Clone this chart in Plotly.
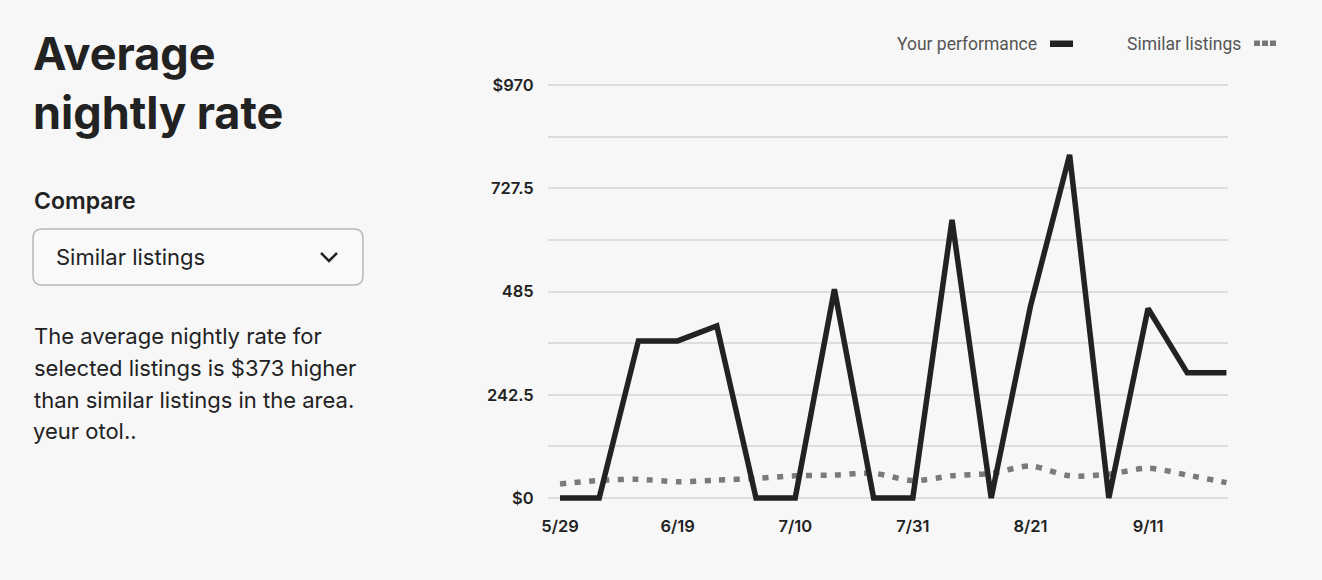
import plotly.graph_objects as go

# ---- data ----
dates = ["5/29", "6/5", "6/12", "6/19", "6/26", "7/3", "7/10", "7/17", "7/24",
         "7/31", "8/7", "8/14", "8/21", "8/28", "9/4", "9/11", "9/18", "9/25"]
your_performance = [0, 0, 369, 369, 404, 0, 0, 490, 0, 0, 653, 0, 450, 806, 0, 445, 294, 294]
similar_listings = [33, 41, 44, 38, 42, 46, 52, 54, 58, 41, 52, 58, 75, 52, 56, 70, 54, 36]
x_tick_labels = ["5/29", "6/19", "7/10", "7/31", "8/21", "9/11"]
y_tick_values = [0, 121.25, 242.5, 363.75, 485, 606.25, 727.5, 848.75, 970]
y_tick_labels = ["$0", "", "242.5", "", "485", "", "727.5", "", "$970"]

BG = "#f7f7f7"
W, H = 1322, 580
ML, MR, MT, MB = 548, 94, 82, 78
PW, PH = W - ML - MR, H - MT - MB


def px(x):
    return (x - ML) / PW


def py(y):
    return (H - MB - y) / PH


fig = go.Figure()
fig.add_trace(go.Scatter(
    x=dates, y=similar_listings, mode="lines", name="Similar listings",
    line=dict(color="#7a7a7a", width=5.5, dash="6px,8.5px", shape="spline", smoothing=0.8),
    showlegend=False, hoverinfo="skip"))
fig.add_trace(go.Scatter(
    x=dates, y=your_performance, mode="lines", name="Your performance",
    line=dict(color="#222222", width=5.5), showlegend=False))

left_font = "Inter, Lato, sans-serif"
annotations = [
    dict(text="Average<br>nightly rate", x=px(31), y=py(24), yanchor="top", align="left",
         font=dict(size=45, color="#222", family=left_font, weight=700)),
    dict(text="Compare", x=px(32), y=py(201), font=dict(size=23, color="#222", family=left_font, weight=600)),
    dict(text="Similar listings", x=px(54), y=py(257), font=dict(size=22, color="#222", family=left_font)),
    dict(text="The average nightly rate for", x=px(32), y=py(336), font=dict(size=22, color="#222", family=left_font)),
    dict(text="selected listings is $373 higher", x=px(32), y=py(368), font=dict(size=22, color="#222", family=left_font)),
    dict(text="than similar listings in the area.", x=px(32), y=py(400), font=dict(size=22, color="#222", family=left_font)),
    dict(text="yeur otol..", x=px(31), y=py(431), font=dict(size=22, color="#222", family=left_font)),
]
for a in annotations:
    a.setdefault("yanchor", "middle")
    a.update(xref="paper", yref="paper", xanchor="left", showarrow=False)

legend_font = dict(size=17.5, color="#555", family="Roboto, sans-serif")
annotations += [
    dict(text="Your performance", x=px(1039), y=py(44), xref="paper", yref="paper",
         xanchor="right", yanchor="middle", showarrow=False, font=legend_font),
    dict(text="Similar listings", x=px(1243), y=py(44), xref="paper", yref="paper",
         xanchor="right", yanchor="middle", showarrow=False, font=legend_font),
]


def rounded_rect(x0, y0, x1, y1, r):
    rx, ry = r / PW, r / PH
    X0, X1 = px(x0), px(x1)
    Y0, Y1 = py(y1), py(y0)  # bottom, top in paper
    return (f"M {X0+rx},{Y1} L {X1-rx},{Y1} Q {X1},{Y1} {X1},{Y1-ry} "
            f"L {X1},{Y0+ry} Q {X1},{Y0} {X1-rx},{Y0} L {X0+rx},{Y0} "
            f"Q {X0},{Y0} {X0},{Y0+ry} L {X0},{Y1-ry} Q {X0},{Y1} {X0+rx},{Y1} Z")


shapes = [
    dict(type="path", xref="paper", yref="paper", path=rounded_rect(33, 229, 363, 285, 9),
         line=dict(color="#b8b8b8", width=1.5), fillcolor="#f9f9f9", layer="below"),
    dict(type="path", xref="paper", yref="paper",
         path=f"M {px(321)},{py(253)} L {px(329)},{py(261)} L {px(337)},{py(253)}",
         line=dict(color="#222", width=2.5)),
    dict(type="rect", xref="paper", yref="paper", x0=px(1050), x1=px(1073), y0=py(47), y1=py(40.5),
         line=dict(width=0), fillcolor="#222"),
]
for sx in (1254, 1262, 1270):
    shapes.append(dict(type="rect", xref="paper", yref="paper", x0=px(sx), x1=px(sx + 6),
                       y0=py(46), y1=py(40.5), line=dict(width=0), fillcolor="#777"))

tick_font = dict(size=16.5, color="#222", weight=600, family="Inter, sans-serif")
fig.update_layout(
    width=W, height=H,
    margin=dict(l=ML, r=MR, t=MT, b=MB),
    paper_bgcolor=BG, plot_bgcolor=BG,
    font=dict(family="Inter, sans-serif", color="#222"),
    annotations=annotations, shapes=shapes,
    xaxis=dict(type="category", range=[-0.306, 17.04], tickmode="array", tickvals=x_tick_labels,
               ticktext=x_tick_labels, showgrid=False, zeroline=False, showline=False,
               ticks="outside", ticklen=9, tickcolor="rgba(0,0,0,0)", tickfont=tick_font),
    yaxis=dict(range=[-9.39, 977.05], tickmode="array", tickvals=y_tick_values, ticktext=y_tick_labels,
               showgrid=True, gridcolor="#dddddd", gridwidth=1.5, zeroline=False, showline=False,
               ticks="outside", ticklen=10, tickcolor="rgba(0,0,0,0)", tickfont=tick_font),
    showlegend=False,
)

fig.write_html(
    "out.html",
    config={"displayModeBar": False},
    post_script="document.body.style.margin='0';document.body.style.background='#f7f7f7';"
                "document.documentElement.style.background='#f7f7f7';",
)
